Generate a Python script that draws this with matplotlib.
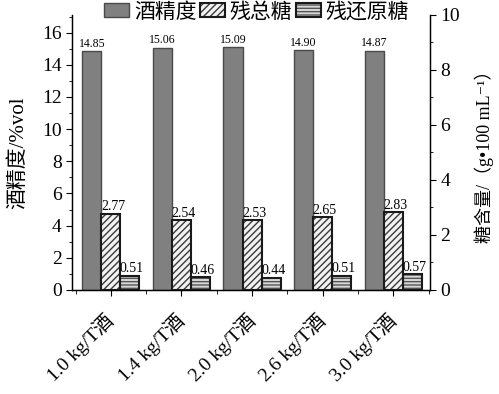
import matplotlib
matplotlib.use("Agg")
import matplotlib.pyplot as plt
import numpy as np
from matplotlib.patches import Patch
from matplotlib.legend_handler import HandlerTuple
from matplotlib.ticker import MultipleLocator, FixedLocator

categories = ["1.0 kg/T酒", "1.4 kg/T酒", "2.0 kg/T酒", "2.6 kg/T酒", "3.0 kg/T酒"]
alcohol = [14.85, 15.06, 15.09, 14.90, 14.87]
total_sugar = [2.77, 2.54, 2.53, 2.65, 2.83]
reducing_sugar = [0.51, 0.46, 0.44, 0.51, 0.57]
legend_labels = ["酒精度", "残总糖", "残还原糖"]

FAM = ["Liberation Serif", "Noto Sans CJK SC", "DejaVu Serif"]
plt.rcParams["font.family"] = FAM
plt.rcParams["hatch.linewidth"] = 1.0

fig = plt.figure(figsize=(4.99, 3.94), dpi=100)
ax = fig.add_axes([0.1443, 0.264, 0.8617 - 0.1443, 0.962 - 0.264])
ax2 = ax.twinx()

x = np.arange(len(categories))
w = 0.27

HATCH_D = "/////"
HATCH_H = "-----"

ax.bar(x - w, alcohol, w, color="#808080", edgecolor="#4a4a4a", linewidth=1.0, zorder=2)
ax2.bar(x, total_sugar, w, facecolor="#f2f2f2", edgecolor="#3a3a3a", hatch=HATCH_D, linewidth=0, zorder=2)
ax2.bar(x, total_sugar, w, facecolor="none", edgecolor="#1a1a1a", linewidth=1.5, zorder=3)
ax2.bar(x + w, reducing_sugar, w, facecolor="#d8d8d8", edgecolor="#555555", hatch=HATCH_H, linewidth=0, zorder=2)
ax2.bar(x + w, reducing_sugar, w, facecolor="none", edgecolor="#1a1a1a", linewidth=1.5, zorder=3)

for xi, v in zip(x, alcohol):
    ax.text(xi - w, v + 0.1, f"{v:.2f}", ha="center", va="bottom", fontsize=8.5, zorder=4)
for xi, v in zip(x, total_sugar):
    ax2.text(xi + 0.03, v + 0.02, f"{v:.2f}", ha="center", va="bottom", fontsize=10, zorder=4)
for xi, v in zip(x, reducing_sugar):
    ax2.text(xi + w + 0.03, v + 0.02, f"{v:.2f}", ha="center", va="bottom", fontsize=10, zorder=4)

ax.set_xlim(-0.55, 4.52)
ax.set_ylim(0, 17.1)
ax2.set_ylim(0, 10)

ax.yaxis.set_minor_locator(MultipleLocator(1))
ax2.yaxis.set_major_locator(MultipleLocator(2))
ax2.yaxis.set_minor_locator(MultipleLocator(1))
ax.set_yticks(np.arange(0, 17, 2))

ax.set_xticks(x)
ax.xaxis.set_minor_locator(FixedLocator(np.arange(-0.5, 4.6, 1.0)))
ax.set_xticklabels(categories, rotation=45, ha="right", va="center", rotation_mode="anchor", fontsize=14)
ax.tick_params(axis="x", which="major", direction="out", length=4, pad=16)
ax.tick_params(axis="x", which="minor", direction="out", length=3)
ax.tick_params(axis="y", which="major", direction="out", length=4, labelsize=14)
ax.tick_params(axis="y", which="minor", direction="out", length=2.5)
ax2.tick_params(axis="y", which="major", direction="out", length=4, labelsize=14)
ax2.tick_params(axis="y", which="minor", direction="out", length=2.5)

for a in (ax, ax2):
    a.spines["top"].set_visible(False)
    for s in a.spines.values():
        s.set_linewidth(0.9)

ax.set_ylabel("酒精度/%vol", fontsize=15, labelpad=10)
ax2.set_ylabel("糖含量/（g•100 mL⁻¹）", fontsize=13, rotation=90, labelpad=10)

h1 = Patch(facecolor="#808080", edgecolor="#4a4a4a", linewidth=1.0)
h2 = (Patch(facecolor="#f2f2f2", edgecolor="#3a3a3a", hatch=HATCH_D, linewidth=0),
      Patch(facecolor="none", edgecolor="#1a1a1a", linewidth=1.5))
h3 = (Patch(facecolor="#d8d8d8", edgecolor="#555555", hatch=HATCH_H, linewidth=0),
      Patch(facecolor="none", edgecolor="#1a1a1a", linewidth=1.5))
fig.legend([h1, h2, h3], legend_labels, loc="center", bbox_to_anchor=(0.514, 0.968),
           ncol=3, frameon=False, fontsize=15, handlelength=1.2, handleheight=0.65,
           handletextpad=0.25, columnspacing=0.15, borderpad=0.1,
           handler_map={tuple: HandlerTuple(ndivide=1, pad=0)})

fig.savefig("out.png", dpi=100)
